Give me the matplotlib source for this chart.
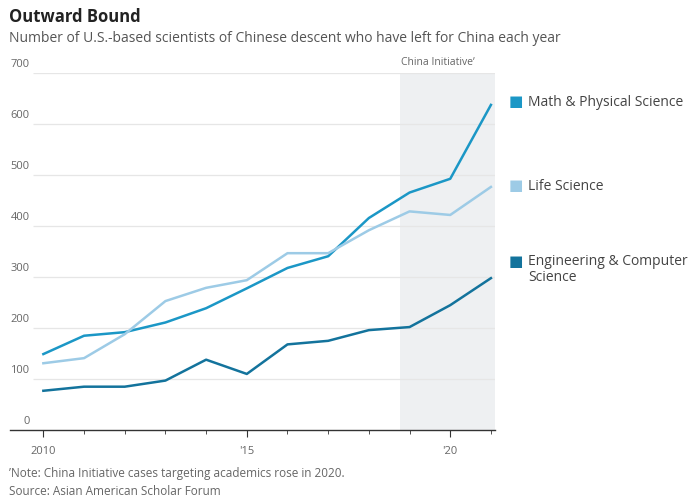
import matplotlib
matplotlib.use("Agg")
import matplotlib.pyplot as plt

plt.rcParams['font.family'] = ['Open Sans', 'DejaVu Sans']

years = list(range(2010, 2022))
math_phys = [149, 185, 192, 211, 239, 278, 318, 341, 416, 466, 493, 638]
life_sci = [131, 141, 188, 253, 279, 294, 347, 347, 392, 429, 422, 477]
eng_cs = [77, 85, 85, 97, 138, 110, 168, 175, 196, 202, 245, 298]

series_names = ['Math & Physical Science', 'Life Science', 'Engineering & Computer\nScience']
colors = ['#1b97c6', '#9dcbe6', '#13739c']

yticks = [0, 100, 200, 300, 400, 500, 600, 700]
xtick_pos = [2010, 2015, 2020]
xtick_labels = ['2010', "'15", "'20"]

W, H = 700, 502
fig = plt.figure(figsize=(W / 100, H / 100), dpi=100)
ax = fig.add_axes([10 / W, 1 - 431 / H, (495 - 10) / W, (431 - 74.3) / H])

xmin, xmax = 2009.18, 2021.1
ax.set_xlim(xmin, xmax)
ax.set_ylim(0, 700)

# China Initiative shading
ax.axvspan(2018.77, xmax, color='#eef0f2', zorder=0, lw=0)
ax.text(2018.8, 712, 'China Initiative\u02bc', fontsize=7.5, color='#666666', va='bottom', ha='left')

for y in yticks[1:]:
    ax.hlines(y, 2009.75, xmax, color='#e6e6e6', lw=0.9, zorder=1)
    ax.text(2009.66, y + 8, str(y), fontsize=8, color='#666666', ha='right', va='bottom')
ax.text(2009.66, 8, '0', fontsize=8, color='#666666', ha='right', va='bottom')

for vals, c in zip([math_phys, life_sci, eng_cs], colors):
    ax.plot(years, vals, color=c, lw=1.8, zorder=3)

for s in ['top', 'right', 'left']:
    ax.spines[s].set_visible(False)
ax.spines['bottom'].set_color('#333333')
ax.spines['bottom'].set_linewidth(1)
ax.set_yticks([])
ax.set_xticks(years, minor=True)
ax.set_xticks(xtick_pos)
ax.set_xticklabels(xtick_labels)
ax.tick_params(axis='x', which='major', length=5, color='#333333', labelsize=8, labelcolor='#666666', pad=6)
ax.tick_params(axis='x', which='minor', length=3, color='#333333')

# legend on the right
leg_y = [103, 186, 263]
for name, c, ly in zip(series_names, colors, leg_y):
    fig.text(509 / W, 1 - ly / H, '\u25a0', color=c, fontsize=11, va='center', ha='left')
    if '\n' in name:
        fig.text(528 / W, 1 - (ly - 9) / H, name, color='#444444', fontsize=10, va='top', ha='left', linespacing=1.1)
    else:
        fig.text(528 / W, 1 - ly / H, name, color='#444444', fontsize=10, va='center', ha='left')

fig.text(9 / W, 1 - 17 / H, 'Outward Bound', fontsize=12, fontweight='bold', color='#222222', va='center')
fig.text(9 / W, 1 - 38 / H, 'Number of U.S.-based scientists of Chinese descent who have left for China each year',
         fontsize=10, color='#555555', va='center')
fig.text(9 / W, 1 - 474 / H, '\u02bcNote: China Initiative cases targeting academics rose in 2020.',
         fontsize=8.5, color='#666666', va='center')
fig.text(9 / W, 1 - 492 / H, 'Source: Asian American Scholar Forum', fontsize=8.5, color='#666666', va='center')

fig.savefig('out.png', dpi=100)
